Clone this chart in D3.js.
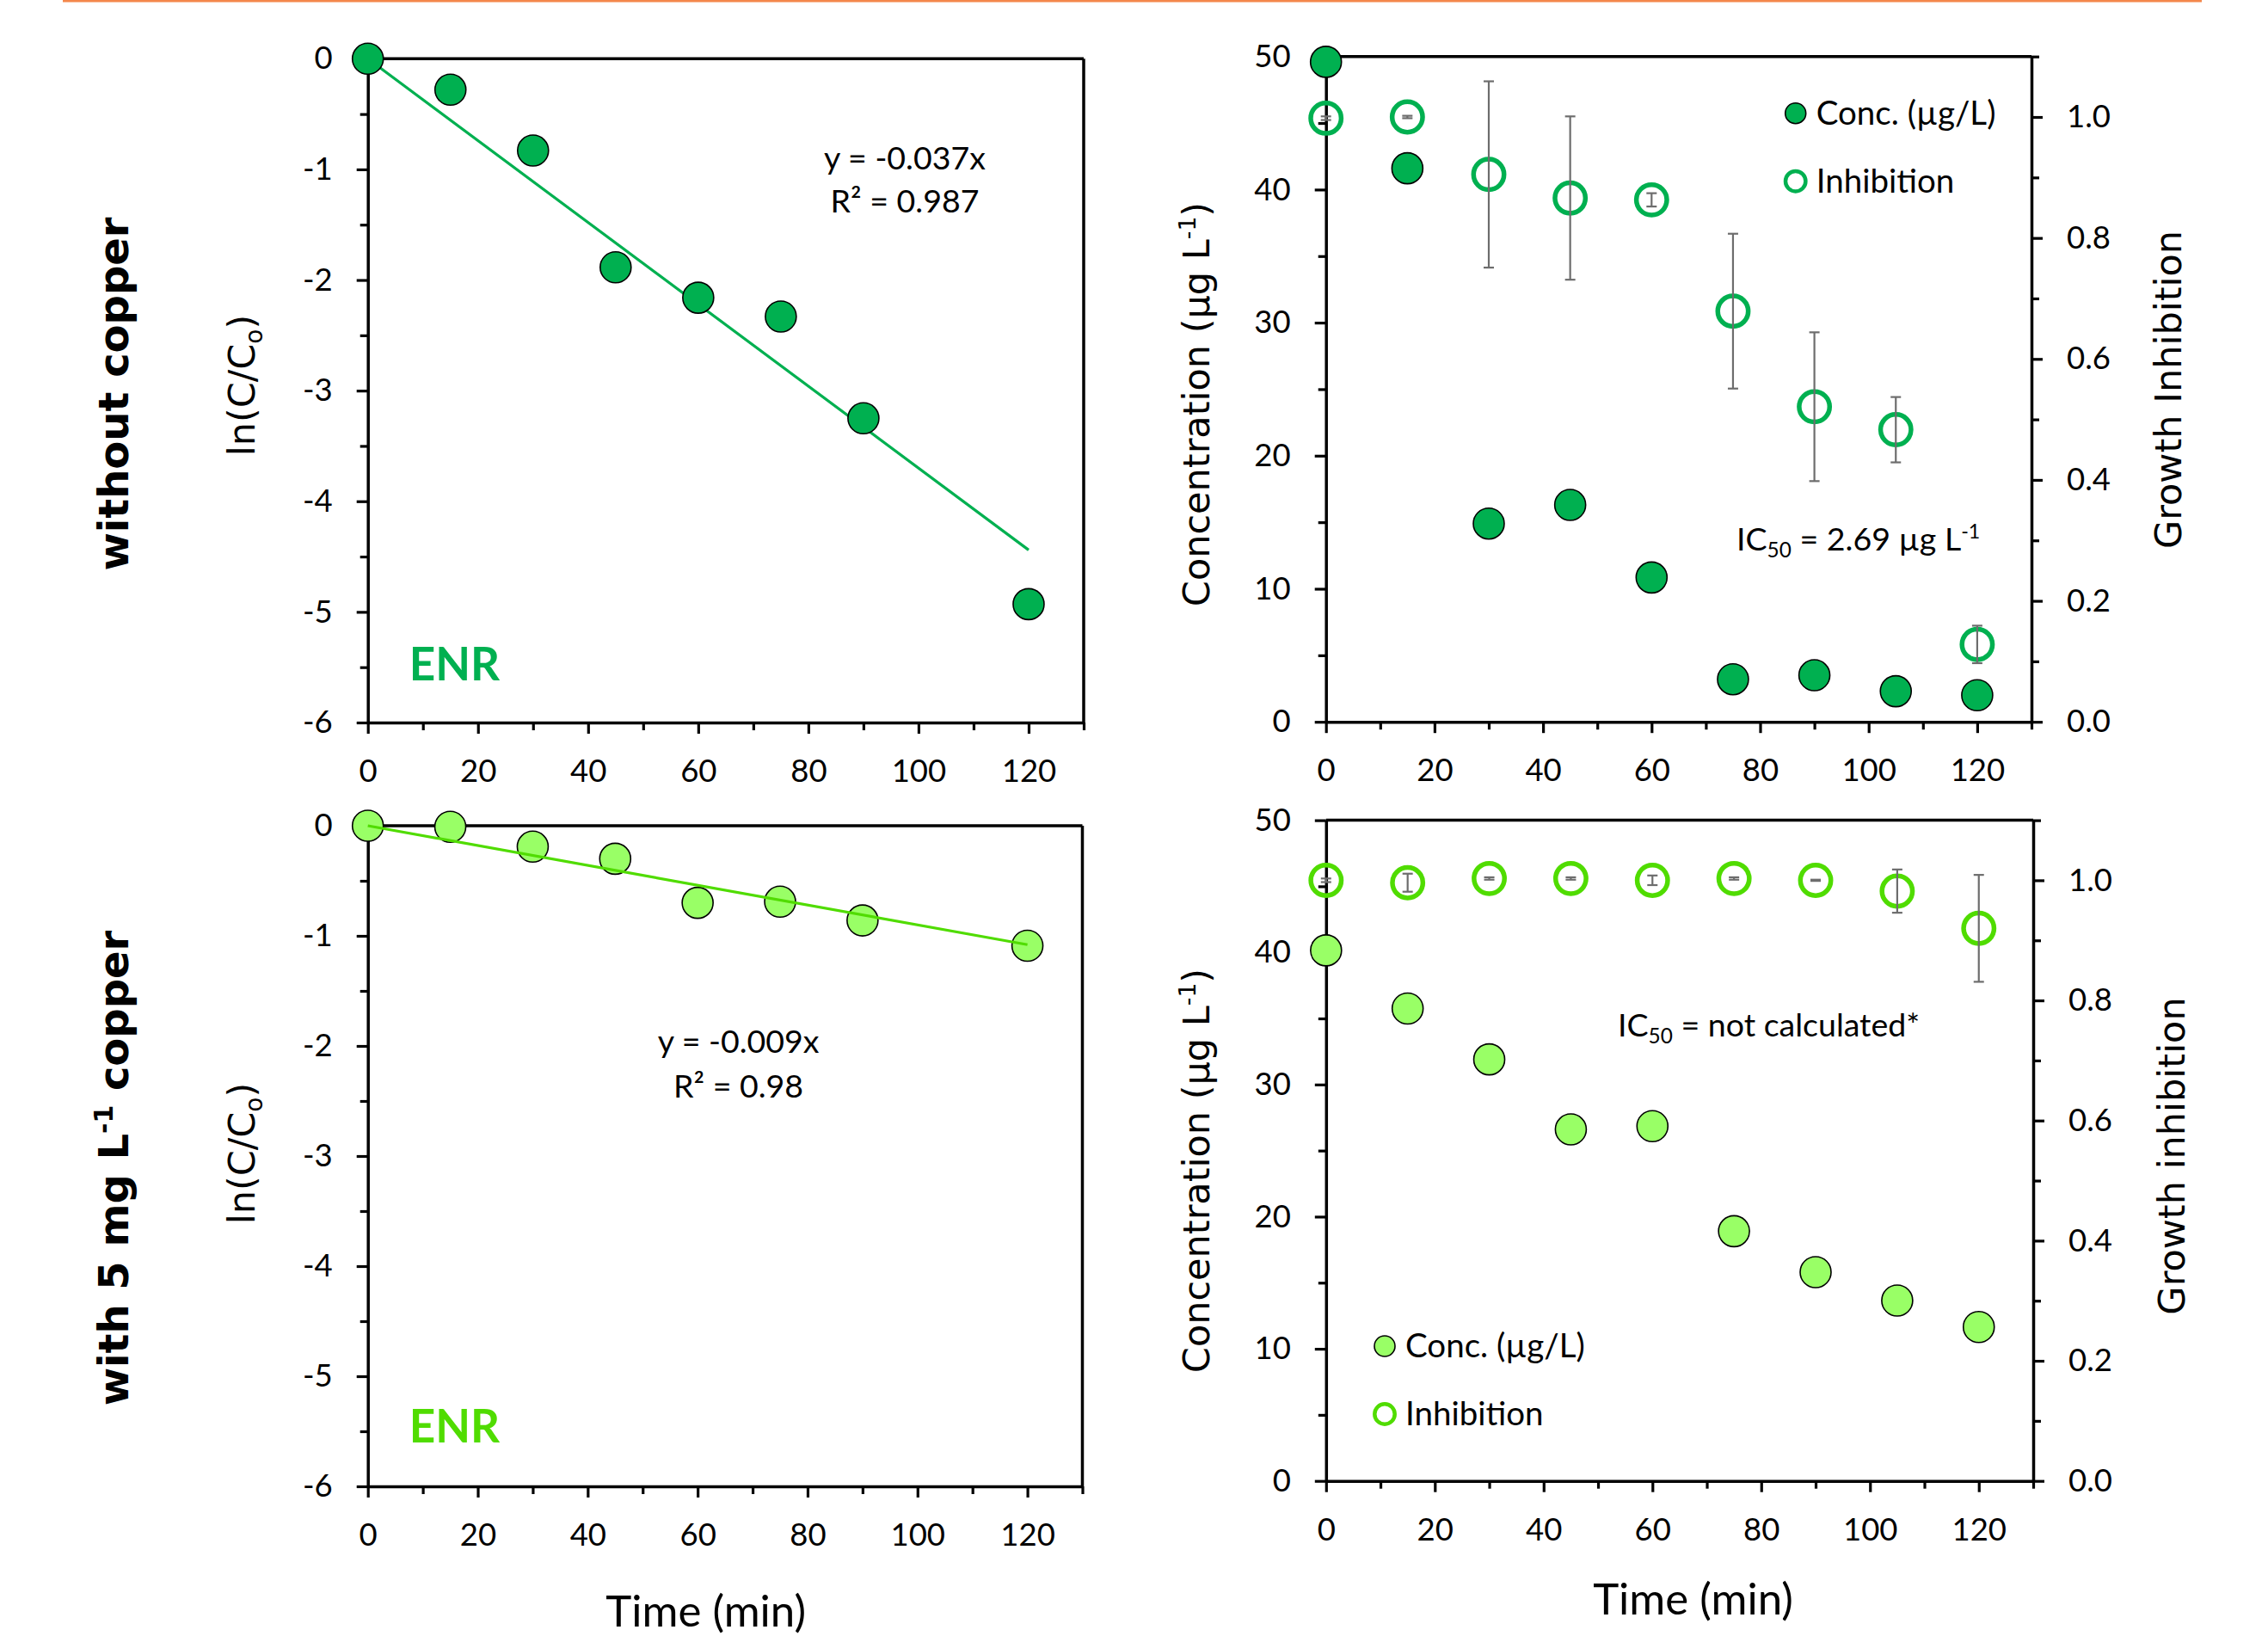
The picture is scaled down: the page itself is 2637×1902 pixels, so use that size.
<!DOCTYPE html>
<html>
<head>
<meta charset="utf-8">
<script src="https://cdn.jsdelivr.net/npm/d3@7"></script>
<style>
  body { margin: 0; background: #fff; }
</style>
</head>
<body>
<svg id="fig" width="2637" height="1902"></svg>
<script>
// ---- data ----
const lnTimes = [0, 15, 30, 45, 60, 75, 90, 120];
const lnNoCopper = [0, -0.28, -0.83, -1.885, -2.16, -2.33, -3.25, -4.93];
const lnCopper = [0, -0.01, -0.19, -0.30, -0.70, -0.69, -0.86, -1.09];
const fitX = [0, 120];
const slopeNoCopper = -0.037;
const slopeCopper = -0.009;

const times = [0, 15, 30, 45, 60, 75, 90, 105, 120];
const concNoCopper = [49.6, 41.6, 14.9, 16.3, 10.85, 3.2, 3.5, 2.3, 2.0];
const inhNoCopper = [0.998, 1.0, 0.905, 0.866, 0.863, 0.679, 0.521, 0.483, 0.128];
const inhErrNoCopper = [0.003, 0.002, 0.154, 0.135, 0.011, 0.128, 0.123, 0.054, 0.031];
const concCopper = [40.15, 35.75, 31.9, 26.6, 26.85, 18.9, 15.8, 13.65, 11.65];
const inhCopper = [1.0, 0.996, 1.003, 1.003, 1.0, 1.003, 1.0, 0.982, 0.92];
const inhErrCopper = [0.003, 0.015, 0.002, 0.002, 0.008, 0.002, 0.001, 0.036, 0.089];

// ticks
const timeTicks = [0, 20, 40, 60, 80, 100, 120];
const timeLabels = ["0", "20", "40", "60", "80", "100", "120"];
const timeMinor = [10, 30, 50, 70, 90, 110, 130];
const lnTicks = [0, -1, -2, -3, -4, -5, -6];
const lnLabels = ["0", "-1", "-2", "-3", "-4", "-5", "-6"];
const lnMinor = [-0.5, -1.5, -2.5, -3.5, -4.5, -5.5];
const concTicks = [0, 10, 20, 30, 40, 50];
const concLabels = ["0", "10", "20", "30", "40", "50"];
const concMinor = [5, 15, 25, 35, 45];
const inhTicks = [0, 0.2, 0.4, 0.6, 0.8, 1.0];
const inhLabels = ["0.0", "0.2", "0.4", "0.6", "0.8", "1.0"];
const inhMinor = [0.1, 0.3, 0.5, 0.7, 0.9, 1.1];

const DARK = "#00b050";
const LIGHT = "#99ff66";
const BRIGHT = "#50dc00";
const CAL = "Lato, sans-serif";
const VER = "'DejaVu Sans', Verdana, sans-serif";

const svg = d3.select("#fig");

// orange rule along the top
svg.append("rect").attr("x", 73).attr("y", 0).attr("width", 2487).attr("height", 2.5).attr("fill", "#f4874b");

function styleAxis(sel) {
  sel.select(".domain").attr("stroke", "#000").attr("stroke-width", 3.5);
  sel.selectAll(".tick line").attr("stroke", "#000").attr("stroke-width", 3.2);
  sel.selectAll(".tick text").attr("font-family", CAL).attr("font-size", 36.5).attr("fill", "#000");
}

function addAxis(g, make, scale, major, labels, minor, pos, pad) {
  const a = g.append("g").attr("transform", pos);
  a.call(make(scale).tickValues(major).tickSize(13).tickSizeOuter(0).tickPadding(pad)
    .tickFormat((d, i) => labels[i]));
  styleAxis(a);
  const m = g.append("g").attr("transform", pos);
  m.call(make(scale).tickValues(minor).tickSize(9).tickSizeOuter(0).tickFormat(() => ""));
  m.select(".domain").remove();
  styleAxis(m);
}

function richText(g, x, y, size, parts, opts) {
  opts = opts || {};
  const t = g.append("text").attr("font-family", opts.family || CAL).attr("font-size", size)
    .attr("fill", opts.fill || "#000").attr("text-anchor", opts.anchor || "start");
  if (opts.rotate) t.attr("transform", `translate(${x},${y}) rotate(-90)`);
  else t.attr("x", x).attr("y", y);
  if (opts.weight) t.attr("font-weight", opts.weight);
  let shift = 0;
  parts.forEach(p => {
    const s = t.append("tspan").text(p.t);
    let target = 0;
    if (p.sub) { s.attr("font-size", size * 0.65); target = size * 0.22; }
    if (p.sup) { s.attr("font-size", size * 0.62); target = -size * 0.38; }
    s.attr("dy", target - shift);
    shift = target;
  });
  return t;
}

function rotLabel(x, y, size, parts, opts) {
  return richText(svg, x, y, size, parts, Object.assign({ rotate: true, anchor: "middle", family: VER }, opts));
}

// ---- ln(C/Co) panels ----
function kineticPanel(box, vals, slope, pointColor, lineColor, lineOnTop, eq, enrColor) {
  const g = svg.append("g");
  const x = d3.scaleLinear().domain([0, 130]).range([box.left, box.right]);
  const y = d3.scaleLinear().domain([-6, 0]).range([box.bottom, box.top]);

  g.append("line").attr("x1", x(0)).attr("x2", x(130)).attr("y1", y(0)).attr("y2", y(0))
    .attr("stroke", "#000").attr("stroke-width", 3.5);
  g.append("line").attr("x1", x(130)).attr("x2", x(130)).attr("y1", y(0)).attr("y2", y(-6))
    .attr("stroke", "#000").attr("stroke-width", 3.5);

  addAxis(g, d3.axisBottom, x, timeTicks, timeLabels, timeMinor, `translate(0,${y(-6)})`, 30);
  addAxis(g, d3.axisLeft, y, lnTicks, lnLabels, lnMinor, `translate(${x(0)},0)`, 28);

  const fit = g.append("path").datum(fitX)
    .attr("fill", "none").attr("stroke", lineColor).attr("stroke-width", 3.2)
    .attr("d", d3.line().x(d => x(d)).y(d => y(slope * d)));

  const pts = g.append("g");
  pts.selectAll("circle").data(lnTimes).enter().append("circle")
    .attr("cx", d => x(d)).attr("cy", (d, i) => y(vals[i])).attr("r", 18)
    .attr("fill", pointColor).attr("stroke", "#000").attr("stroke-width", 1.6);
  if (lineOnTop) fit.raise();

  richText(g, eq.x, eq.y1, 37.5, [{ t: eq.line1 }], { anchor: "middle" });
  richText(g, eq.x, eq.y2, 37.5, [{ t: eq.line2 }], { anchor: "middle" });
  richText(g, x(0) + 48, box.enrY, 53, [{ t: "ENR" }], { fill: enrColor, weight: "bold" });
}

kineticPanel({ left: 427.7, right: 1260, top: 68.3, bottom: 840, enrY: 791 },
  lnNoCopper, slopeNoCopper, DARK, DARK, false,
  { x: 1052, y1: 197, y2: 247, line1: "y = -0.037x", line2: "R² = 0.987" }, DARK);

kineticPanel({ left: 427.7, right: 1258.5, top: 960, bottom: 1728, enrY: 1677 },
  lnCopper, slopeCopper, LIGHT, BRIGHT, true,
  { x: 858.6, y1: 1224, y2: 1276, line1: "y = -0.009x", line2: "R² = 0.98" }, BRIGHT);

// ---- concentration / inhibition panels ----
function concPanel(box, conc, inh, err, fillColor, ringColor) {
  const g = svg.append("g");
  const x = d3.scaleLinear().domain([0, 130]).range([box.left, box.right]);
  const yL = d3.scaleLinear().domain([0, 50]).range([box.bottom, box.top]);
  const yR = d3.scaleLinear().domain([0, 1.1]).range([box.bottom, box.top]);

  g.append("line").attr("x1", x(0)).attr("x2", x(130)).attr("y1", yL(50)).attr("y2", yL(50))
    .attr("stroke", "#000").attr("stroke-width", 3.5);

  addAxis(g, d3.axisBottom, x, timeTicks, timeLabels, timeMinor, `translate(0,${yL(0)})`, 30);
  addAxis(g, d3.axisLeft, yL, concTicks, concLabels, concMinor, `translate(${x(0)},0)`, 28);
  addAxis(g, d3.axisRight, yR, inhTicks, inhLabels, inhMinor, `translate(${x(130)},0)`, 28);

  g.append("g").selectAll("circle").data(times).enter().append("circle")
    .attr("cx", d => x(d)).attr("cy", (d, i) => yL(conc[i])).attr("r", 18)
    .attr("fill", fillColor).attr("stroke", "#000").attr("stroke-width", 1.6);

  g.append("g").selectAll("circle").data(times).enter().append("circle")
    .attr("cx", d => x(d)).attr("cy", (d, i) => yR(inh[i])).attr("r", 17.7)
    .attr("fill", "none").attr("stroke", ringColor).attr("stroke-width", 5.5);

  const eb = g.append("g").attr("stroke", "#6d6d6d").attr("stroke-width", 2.2);
  times.forEach((t, i) => {
    const cx = x(t), hi = yR(inh[i] + err[i]), lo = yR(inh[i] - err[i]);
    eb.append("line").attr("x1", cx).attr("x2", cx).attr("y1", hi).attr("y2", lo);
    eb.append("line").attr("x1", cx - 6).attr("x2", cx + 6).attr("y1", hi).attr("y2", hi);
    eb.append("line").attr("x1", cx - 6).attr("x2", cx + 6).attr("y1", lo).attr("y2", lo);
  });

  // legend
  const lg = box.legend;
  g.append("circle").attr("cx", lg.x).attr("cy", lg.y).attr("r", 12)
    .attr("fill", fillColor).attr("stroke", "#000").attr("stroke-width", 1.6);
  g.append("circle").attr("cx", lg.x).attr("cy", lg.y + 79).attr("r", 11.7)
    .attr("fill", "none").attr("stroke", ringColor).attr("stroke-width", 4.5);
  richText(g, lg.x + 24, lg.y + 13, 38.5, [{ t: "Conc. (µg/L)" }]);
  richText(g, lg.x + 24, lg.y + 92, 38.5, [{ t: "Inhibition" }]);

  richText(g, box.ic.x, box.ic.y, 37.5, box.ic.parts);
}

concPanel({ left: 1541.7, right: 2362, top: 65.7, bottom: 839.2,
  legend: { x: 2087.7, y: 131.7 },
  ic: { x: 2019, y: 640, parts: [{ t: "IC" }, { t: "50", sub: true }, { t: " = 2.69 µg L" }, { t: "-1", sup: true }] } },
  concNoCopper, inhNoCopper, inhErrNoCopper, DARK, DARK);

concPanel({ left: 1541.8, right: 2364, top: 953.6, bottom: 1721.7,
  legend: { x: 1610, y: 1565 },
  ic: { x: 1881, y: 1205, parts: [{ t: "IC" }, { t: "50", sub: true }, { t: " = not calculated*" }] } },
  concCopper, inhCopper, inhErrCopper, LIGHT, BRIGHT);

// ---- axis titles and row labels ----
rotLabel(149, 458, 48, [{ t: "without copper" }], { weight: "bold" });
rotLabel(149, 1358, 48, [{ t: "with 5 mg L" }, { t: "-1", sup: true }, { t: " copper" }], { weight: "bold" });

rotLabel(296, 448, 43, [{ t: "ln(C/C" }, { t: "o", sub: true }, { t: ")" }]);
rotLabel(296, 1341, 43, [{ t: "ln(C/C" }, { t: "o", sub: true }, { t: ")" }]);

rotLabel(1406, 470, 43, [{ t: "Concentration (µg L" }, { t: "-1", sup: true }, { t: ")" }]);
rotLabel(1406, 1361, 43, [{ t: "Concentration (µg L" }, { t: "-1", sup: true }, { t: ")" }]);

rotLabel(2536, 453, 43, [{ t: "Growth Inhibition" }]);
rotLabel(2540, 1344, 43, [{ t: "Growth inhibition" }]);

richText(svg, 820.7, 1891, 51, [{ t: "Time (min)" }], { anchor: "middle" });
richText(svg, 1968.5, 1877, 51, [{ t: "Time (min)" }], { anchor: "middle" });
</script>
</body>
</html>
